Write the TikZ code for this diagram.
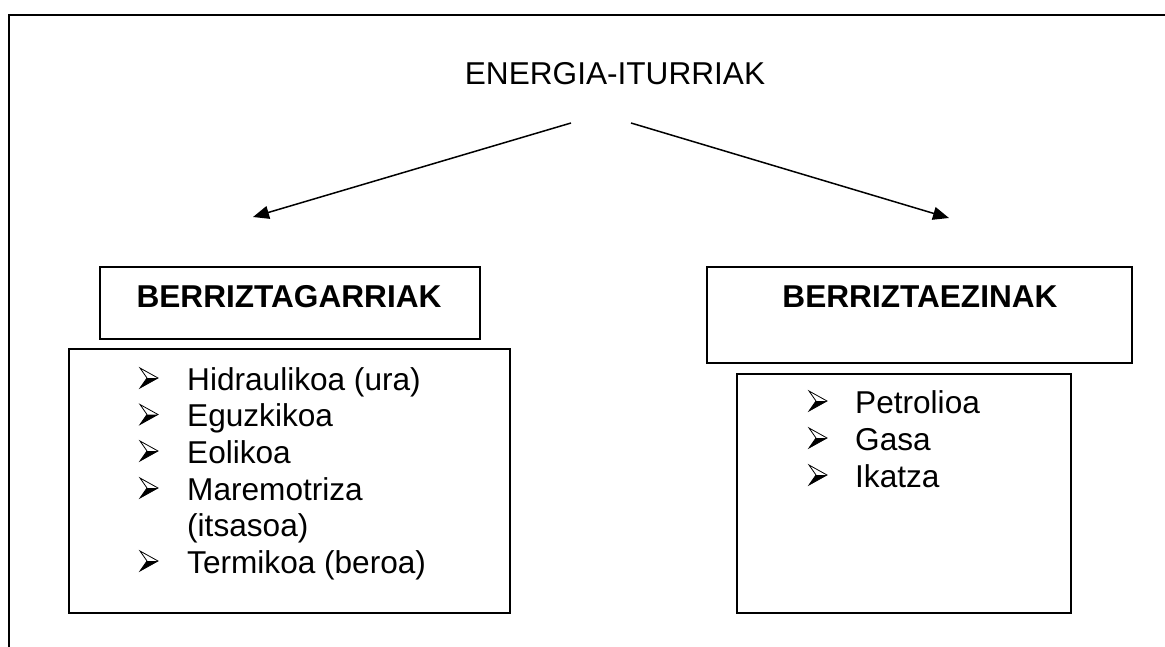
\documentclass[tikz,border=0pt]{standalone}
\usepackage{fontspec}
\setmainfont{Liberation Sans}
\usetikzlibrary{arrows.meta}
\tikzset{
  frame/.style={line width=2pt},
  box/.style={draw, line width=1.5pt, rectangle, inner sep=0pt},
  txt/.style={anchor=base west, inner sep=0pt, font=\fontsize{31.6}{37}\selectfont},
  head/.style={anchor=base, inner sep=0pt, font=\fontsize{31.6}{37}\selectfont\bfseries},
  conn/.style={line width=1.5pt, -{Triangle[length=16pt,width=13pt]}},
  bul/.pic={
    \fill[black] (0,10) -- (18,0) -- (7,0) -- cycle;
    \draw[line width=0.8pt, line join=miter] (0,-10) -- (18,0) -- (0,10) -- (7,0) -- cycle;
  }
}
\begin{document}
\begin{tikzpicture}[x=1pt,y=-1pt]
\useasboundingbox (0,0) rectangle (1165,647);
% outer frame (top and left only)
\draw[frame] (1165,15) -- (9,15) -- (9,647);

% title
\node[anchor=base, inner sep=0pt, font=\fontsize{31.6}{37}\selectfont] (title) at (615,85) {ENERGIA-ITURRIAK};
\coordinate (ls) at (571,123);
\coordinate (rs) at (631,123);
\coordinate (lt) at (253,217);
\coordinate (rt) at (949,218);
\draw[conn] (ls) -- (lt);
\draw[conn] (rs) -- (rt);

% header boxes
\node[box, minimum width=380pt, minimum height=72pt] (lh) at (290,303) {};
\node[head] (lht) at (289,307) {BERRIZTAGARRIAK};
\node[box, minimum width=425pt, minimum height=96pt] (rh) at (919.5,315) {};
\node[head] (rht) at (920,307) {BERRIZTAEZINAK};

% list boxes
\node[box, minimum width=441pt, minimum height=264pt] (ll) at (289.5,481) {};
\node[box, minimum width=334pt, minimum height=239pt] (rl) at (904,493.5) {};

% left list
\foreach \y/\t in {390/Hidraulikoa (ura), 426.5/Eguzkikoa, 463/Eolikoa, 500/Maremotriza, 573/Termikoa (beroa)} {
  \pic at (140,\y-12) {bul};
}
\node[txt] (l1) at (187,390) {Hidraulikoa (ura)};
\node[txt] (l2) at (187,426.5) {Eguzkikoa};
\node[txt] (l3) at (187,463) {Eolikoa};
\node[txt] (l4) at (187,500) {Maremotriza};
\node[txt] (l5) at (187,536.5) {(itsasoa)};
\node[txt] (l6) at (187,573) {Termikoa (beroa)};

% right list
\foreach \y in {413,450,487} {
  \pic at (809,\y-12) {bul};
}
\node[txt] (r1) at (855,413) {Petrolioa};
\node[txt] (r2) at (855,450) {Gasa};
\node[txt] (r3) at (855,487) {Ikatza};
\end{tikzpicture}
\end{document}
